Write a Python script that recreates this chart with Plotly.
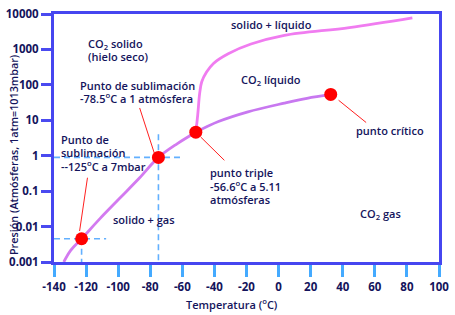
import plotly.graph_objects as go

# ---------------- data ----------------
x_ticks = [-140, -120, -100, -80, -60, -40, -20, 0, 20, 40, 60, 80, 100]
x_tick_labels = ["-140", "-120", "-100", "-80", "-60", "-40", "-20", "0", "20", "40", "60", "80", "100"]
y_ticks = [0.001, 0.01, 0.1, 1, 10, 100, 1000, 10000]
y_tick_labels = ["0.001", "0.01", "0.1", "1", "10", "100", "1000", "10000"]

# sublimation curve (solid/gas)
subl_T = [-133.9, -129.6, -122.8, -111.2, -98.9, -86.6, -74.9, -63.3, -51.6]
subl_P = [0.0010, 0.00213, 0.00453, 0.0170, 0.0638, 0.239, 0.897, 2.17, 4.61]

# vaporisation curve (liquid/gas)
vap_T = [-51.6, -37.5, -19.1, 3.6, 17.7, 32.5]
vap_P = [4.61, 9.2, 17.3, 30.5, 41.8, 53.7]

# melting curve (solid/liquid)
melt_T = [-51.6, -50.4, -49.2, -47.9, -44.9, -40.6, -31.4, -17.2, 3.6, 44.1, 83.4]
melt_P = [4.61, 14.3, 57.3, 122, 229, 403, 757, 1419, 2500, 4140, 7780]

# marked points: sublimation 1 atm, sublimation 7 mbar, triple, critical
pt_T = [-74.9, -122.8, -51.6, 32.5]
pt_P = [0.897, 0.00453, 4.61, 53.7]

# ---------------- layout helpers ----------------
W, H = 455, 315
L, R, T, B = 53, 444, 6, 262


def px(x):
    return (x - L) / (R - L)


def py(y):
    return (B - y) / (B - T)


NAVY = "#14145c"
FONT = "Open Sans"

fig = go.Figure()

fig.add_trace(go.Scatter(x=subl_T, y=subl_P, mode="lines", line=dict(color="#d37af0", width=2.8, shape="spline"),
                         hoverinfo="skip", showlegend=False))
fig.add_trace(go.Scatter(x=vap_T, y=vap_P, mode="lines", line=dict(color="#c878f0", width=2.8, shape="spline"),
                         hoverinfo="skip", showlegend=False))
fig.add_trace(go.Scatter(x=melt_T, y=melt_P, mode="lines", line=dict(color="#f07cf0", width=2.8, shape="spline"),
                         hoverinfo="skip", showlegend=False))

# dashed guide lines
dash = dict(color="#62b0ff", width=1.6, dash="6px,4px")
shapes = [
    dict(type="line", xref="x", yref="y", x0=-140, x1=-60.2, y0=pt_P[0], y1=pt_P[0], line=dash, layer="below"),
    dict(type="line", xref="x", yref="y", x0=pt_T[0], x1=pt_T[0], y0=4.06, y1=0.001, line=dash, layer="below"),
    dict(type="line", xref="x", yref="y", x0=-140, x1=-107.5, y0=pt_P[1], y1=pt_P[1], line=dash, layer="below"),
    dict(type="line", xref="x", yref="y", x0=pt_T[1], x1=pt_T[1], y0=pt_P[1], y1=0.001, line=dash, layer="below"),
]
# red leader lines (pixel positions)
leaders = [((140, 103), (155, 150)), ((87, 175), (79, 230)), ((202, 133), (226, 157)), ((342, 95), (370, 118))]
for (a, b) in leaders:
    shapes.append(dict(type="line", xref="paper", yref="paper", x0=px(a[0]), y0=py(a[1]), x1=px(b[0]), y1=py(b[1]),
                       line=dict(color="#ff2020", width=1), layer="below"))

fig.add_trace(go.Scatter(x=pt_T, y=pt_P, mode="markers", marker=dict(color="#ff0000", size=13, line=dict(width=0)),
                         hoverinfo="skip", showlegend=False))

labels = [
    ("CO<sub>2</sub> solido", 85, 37),
    ("(hielo seco)", 85, 50),
    ("solido + líquido", 231, 17),
    ("CO<sub>2</sub> líquido", 241, 74),
    ("Punto de sublimación", 77, 80),
    ("-78.5<sup>o</sup>C a 1 atmósfera", 77, 93),
    ("Punto de", 58, 136),
    ("sublimación", 58, 149),
    ("--125<sup>o</sup>C a 7mbar", 58, 163),
    ("punto triple", 209, 170),
    ("-56.6<sup>o</sup>C a 5.11", 209, 184),
    ("atmósferas", 209, 197),
    ("solido + gas", 111, 218),
    ("punto crítico", 358, 126),
    ("CO<sub>2</sub> gas", 362, 212),
]
TXT = dict(family=FONT, size=11, color=NAVY, weight=600)
annotations = []
for txt, x, y in labels:
    annotations.append(dict(text=txt, x=px(x), y=py(y), xref="paper", yref="paper", xanchor="left",
                            yanchor="middle", showarrow=False, font=TXT))

annotations.append(dict(text="Temperatura (<sup>o</sup>C)", x=px(234), y=py(305), xref="paper", yref="paper",
                        xanchor="center", yanchor="middle", showarrow=False, font=TXT))
annotations.append(dict(text="Presión (Atmósferas, 1atm=1013mbar)", x=px(12), y=py(152), xref="paper",
                        yref="paper", xanchor="center", yanchor="middle", textangle=-90, showarrow=False,
                        font=dict(family=FONT, size=10.8, color=NAVY, weight=600)))

fig.update_layout(
    width=W, height=H,
    margin=dict(l=L, r=W - R, t=T, b=H - B, pad=0),
    paper_bgcolor="white", plot_bgcolor="white",
    shapes=shapes, annotations=annotations,
    xaxis=dict(range=[-140, 100], tickvals=x_ticks, ticktext=x_tick_labels, ticks="outside", ticklen=12,
               tickwidth=3, tickcolor="#44aaff", showgrid=False, zeroline=False, showline=True, mirror=True,
               linecolor="#4646f0", linewidth=3,
               tickfont=dict(family=FONT, size=11.5, color=NAVY, weight="bold")),
    yaxis=dict(type="log", range=[-3, 4], tickvals=y_ticks, ticktext=y_tick_labels, ticks="outside",
               ticklen=10, tickwidth=3, tickcolor="#4a4af0", showgrid=False, zeroline=False, showline=True,
               mirror=True, linecolor="#4646f0", linewidth=3,
               tickfont=dict(family=FONT, size=11.5, color=NAVY, weight="bold")),
)

fig.write_html("out.html")
